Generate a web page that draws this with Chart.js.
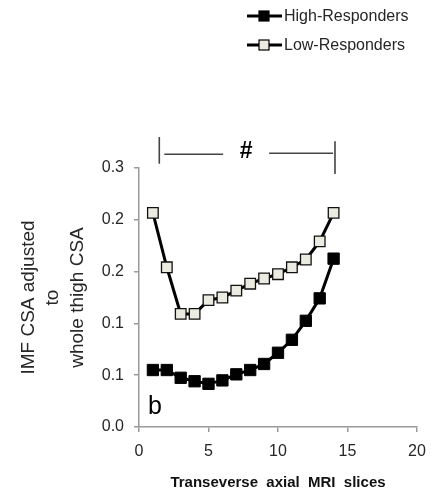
<!DOCTYPE html>
<html>
<head>
<meta charset="utf-8">
<script src="https://cdn.jsdelivr.net/npm/chart.js@4/dist/chart.umd.min.js"></script>
<style>
  html, body { margin: 0; padding: 0; background: #fff; }
  #wrap { width: 436px; height: 492px; }
</style>
</head>
<body>
<div id="wrap"><canvas id="myChart" width="436" height="492"></canvas></div>
<script>
// slices along the thigh
const slices = [1, 2, 3, 4, 5, 6, 7, 8, 9, 10, 11, 12, 13, 14];
const high_responders = [0.066, 0.066, 0.057, 0.053, 0.050, 0.054, 0.061, 0.066, 0.073, 0.086, 0.101, 0.123, 0.149, 0.195];
const low_responders  = [0.248, 0.185, 0.131, 0.131, 0.147, 0.150, 0.158, 0.166, 0.172, 0.177, 0.185, 0.194, 0.215, 0.248];
const series_names = ['High-Responders', 'Low-Responders'];
const y_ticks = [0, 0.06, 0.12, 0.18, 0.24, 0.30];
const x_ticks = [0, 5, 10, 15, 20];
// "#" bracket spans these slices
const bracket_from = 1.46;
const bracket_to = 14.1;

function toPoints(values){
    let pts = [];
    for(let i = 0; i < slices.length; i += 1){
        pts.push({x: slices[i], y: values[i]});
    }
    return pts;
}

const txt = '#262626';
const axis_grey = '#9a9a9a';

// legend, bracket and panel letter
const extras = {
    id: 'extras',
    afterDraw(chart){
        const ctx = chart.ctx;
        const xs = chart.scales.x, ys = chart.scales.y;
        ctx.save();

        // legend
        const fills = ['#000000', '#ecebe1'];
        for(let i = 0; i < 2; i += 1){
            const ly = 16 + i * 29;
            ctx.strokeStyle = '#000';
            ctx.lineWidth = 3;
            ctx.beginPath(); ctx.moveTo(247, ly); ctx.lineTo(282, ly); ctx.stroke();
            ctx.fillStyle = fills[i];
            ctx.fillRect(259, ly - 5, 10, 10);
            ctx.lineWidth = 1.2;
            ctx.strokeRect(259, ly - 5, 10, 10);
            ctx.fillStyle = txt;
            ctx.font = '16px "Liberation Sans", Arial, sans-serif';
            ctx.textAlign = 'left';
            ctx.textBaseline = 'middle';
            ctx.fillText(series_names[i], 284, ly + 1);
        }

        // bracket with #
        const x1 = xs.getPixelForValue(bracket_from);
        const x2 = xs.getPixelForValue(bracket_to);
        const yl = ys.getPixelForValue(0.316);
        const xm = (x1 + x2) / 2;
        ctx.strokeStyle = '#444';
        ctx.lineWidth = 1.6;
        ctx.beginPath();
        ctx.moveTo(x1, ys.getPixelForValue(0.336)); ctx.lineTo(x1, ys.getPixelForValue(0.305));
        ctx.moveTo(x1 + 5, yl); ctx.lineTo(xm - 24, yl);
        ctx.moveTo(xm + 22, yl - 1); ctx.lineTo(x2 - 2, yl - 1);
        ctx.moveTo(x2, ys.getPixelForValue(0.331)); ctx.lineTo(x2, ys.getPixelForValue(0.293));
        ctx.stroke();
        ctx.fillStyle = '#000';
        ctx.font = 'bold 23px "Liberation Sans", Arial, sans-serif';
        ctx.textAlign = 'center';
        ctx.textBaseline = 'middle';
        ctx.fillText('#', xm - 1, yl - 3);

        // panel letter
        ctx.font = '25px "Liberation Sans", Arial, sans-serif';
        ctx.fillText('b', xs.getPixelForValue(1.15), ys.getPixelForValue(0.023));
        ctx.restore();
    }
};

const ctx = document.getElementById('myChart').getContext('2d');
const myChart = new Chart(ctx, {
    type: 'line',
    data: {
        datasets: [{
            label: series_names[0],
            data: toPoints(high_responders),
            borderColor: '#000',
            borderWidth: 3,
            pointStyle: 'rect',
            pointRadius: 8,
            pointBackgroundColor: '#000',
            pointBorderColor: '#000',
            pointBorderWidth: 1
        }, {
            label: series_names[1],
            data: toPoints(low_responders),
            borderColor: '#000',
            borderWidth: 3,
            pointStyle: 'rect',
            pointRadius: 7.5,
            pointBackgroundColor: '#ecebe1',
            pointBorderColor: '#111',
            pointBorderWidth: 1.3
        }]
    },
    options: {
        responsive: false,
        animation: false,
        layout: { padding: { top: 168, right: 19, left: 0, bottom: 0 } },
        plugins: {
            legend: { display: false },
            tooltip: { enabled: false }
        },
        scales: {
            x: {
                type: 'linear',
                min: 0, max: 20,
                afterBuildTicks: (s) => { s.ticks = x_ticks.map(v => ({value: v})); },
                afterFit: (s) => { s.height = 65; },
                grid: { drawOnChartArea: false, drawTicks: true, tickLength: 5, color: axis_grey, lineWidth: 1.5 },
                border: { color: axis_grey, width: 1.5 },
                ticks: { color: txt, padding: 10, font: { family: '"Liberation Sans", Arial, sans-serif', size: 16 } },
                title: {
                    display: true,
                    text: 'Transeverse  axial  MRI  slices',
                    color: '#111',
                    padding: { top: 0, bottom: 0 },
                    font: { family: '"Liberation Sans", Arial, sans-serif', size: 15, weight: 'bold', lineHeight: 1.2 }
                }
            },
            y: {
                min: 0, max: 0.3,
                afterBuildTicks: (s) => { s.ticks = y_ticks.map(v => ({value: v})); },
                afterFit: (s) => { s.width = 139; },
                grid: { drawOnChartArea: false, drawTicks: true, tickLength: 5, color: axis_grey, lineWidth: 1.5 },
                border: { color: axis_grey, width: 1.5 },
                ticks: {
                    color: txt, padding: 10,
                    font: { family: '"Liberation Sans", Arial, sans-serif', size: 16 },
                    callback: (v) => v.toFixed(1)
                },
                title: {
                    display: true,
                    text: ['IMF CSA adjusted', 'to', 'whole thigh CSA'],
                    color: txt,
                    padding: { top: 16, bottom: 0 },
                    font: { family: '"Liberation Sans", Arial, sans-serif', size: 19, lineHeight: 1.3 }
                }
            }
        }
    },
    plugins: [extras]
});
</script>
</body>
</html>
